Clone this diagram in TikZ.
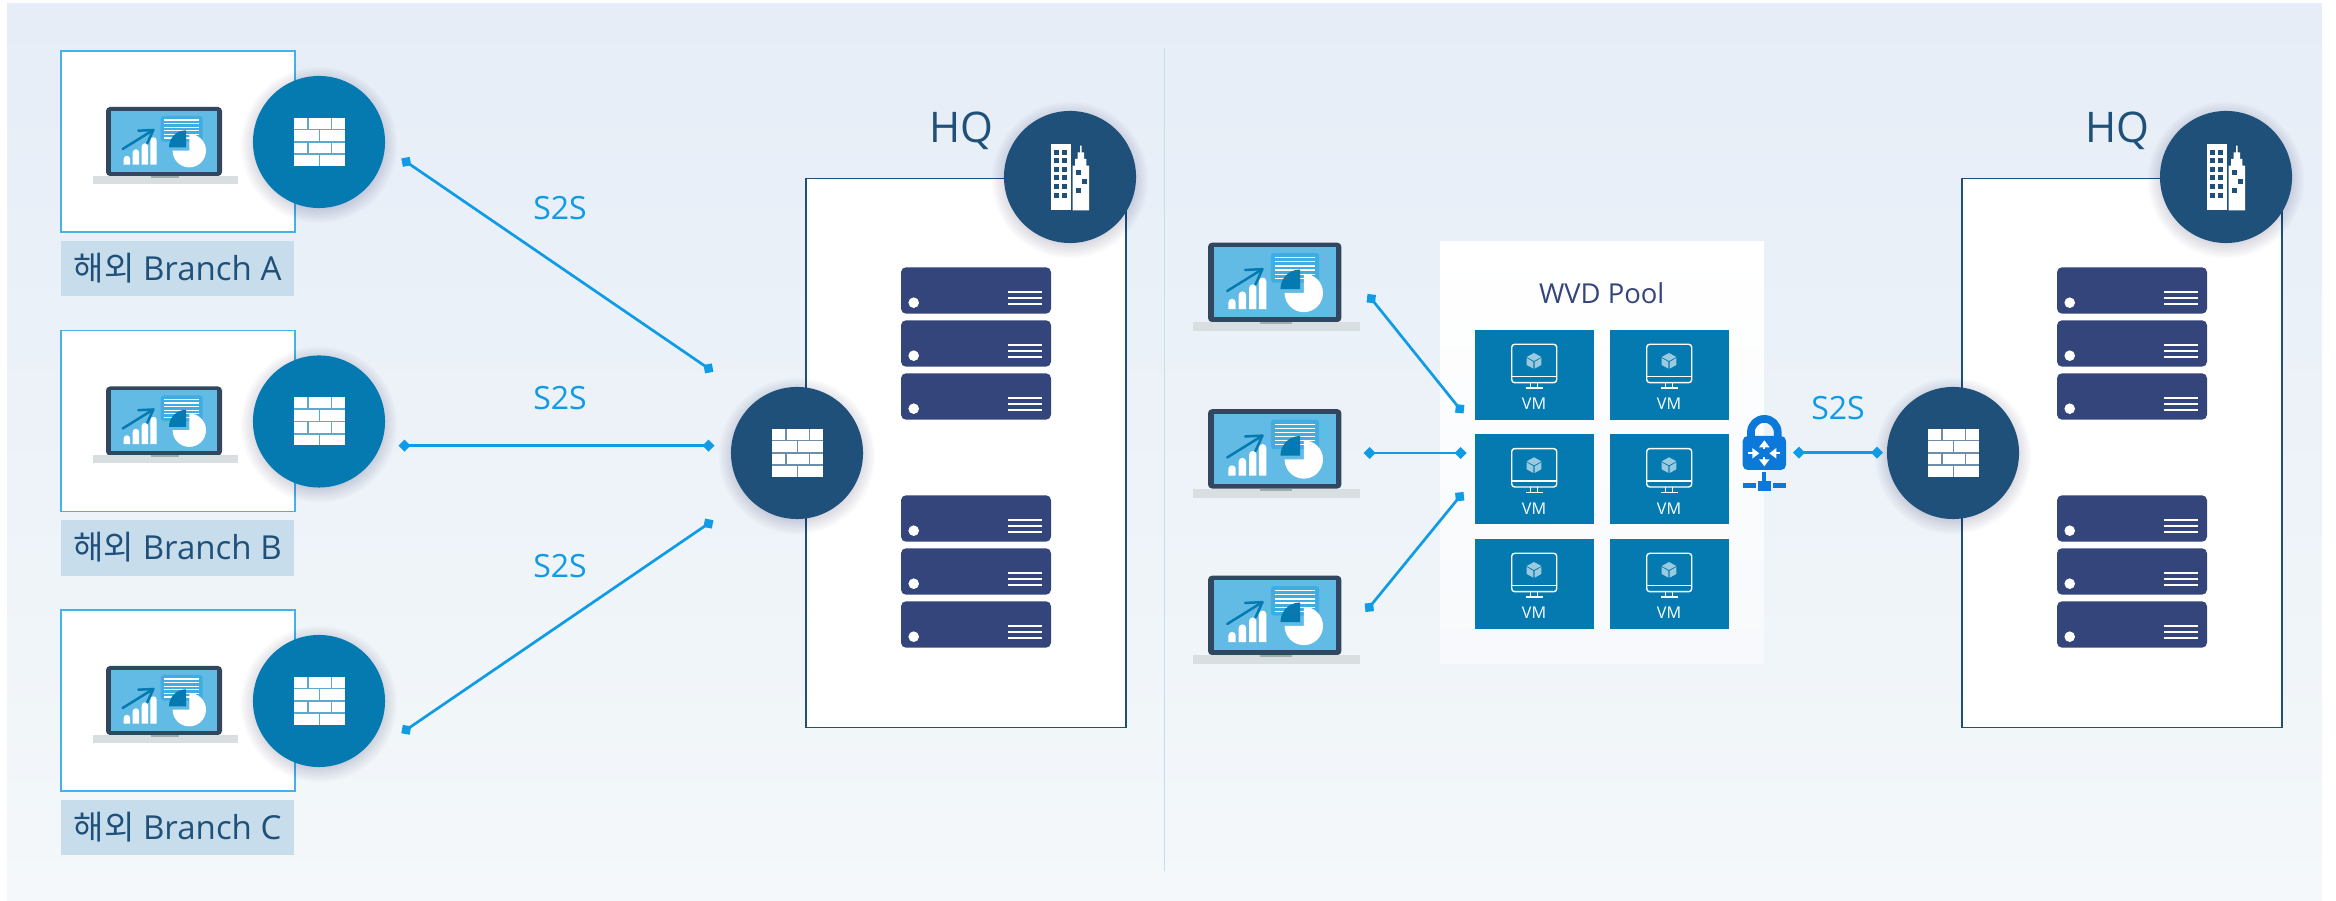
\documentclass[tikz,border=0pt]{standalone}
\usepackage{fontspec}
\setmainfont{Open Sans}
\newfontfamily\krfont{Noto Sans CJK KR}
\usetikzlibrary{arrows.meta}

\definecolor{bgtop}{HTML}{E6EDF7}
\definecolor{bgbottom}{HTML}{F4F8FA}
\definecolor{poolbottom}{HTML}{F7F9FC}
\definecolor{branchblue}{HTML}{047AB0}
\definecolor{hubblue}{HTML}{1F507A}
\definecolor{linkblue}{HTML}{0F9BE6}
\definecolor{boxblue}{HTML}{45B0EA}
\definecolor{labelbg}{HTML}{C8DDEC}
\definecolor{rackblue}{HTML}{34457B}
\definecolor{lockblue}{HTML}{0C78DA}
\definecolor{screenblue}{HTML}{62BBE4}
\definecolor{docblue}{HTML}{3FADE2}
\definecolor{laptopdark}{HTML}{30475F}
\definecolor{laptopbase}{HTML}{D9DFE1}
\definecolor{laptopnotch}{HTML}{A0ADAD}

\tikzset{
    every node/.append style={outer sep=0pt},
    bigcircle/.style={circle, fill=#1, minimum size=1.32cm, inner sep=0pt},
    branchbox/.style={rectangle, draw=boxblue, line width=0.15mm, fill=white, minimum width=2.34cm, minimum height=1.81cm, inner sep=0pt, anchor=north west},
    branchlabel/.style={rectangle, fill=labelbg, text=hubblue, font=\fontsize{9.4}{11}\selectfont, minimum width=2.33cm, minimum height=0.55cm, inner sep=0pt, text height=0.23cm, text depth=0pt, anchor=north west},
    hqbox/.style={rectangle, draw=hubblue, line width=0.15mm, fill=white, minimum width=3.2cm, minimum height=5.486cm, inner sep=0pt, anchor=north west},
    hqtext/.style={anchor=base, text=hubblue, font=\fontsize{12}{14}\selectfont, inner sep=0pt},
    linktext/.style={anchor=base, text=linkblue, font=\fontsize{9.1}{11}\selectfont, inner sep=0pt},
    linkline/.style={draw=linkblue, line width=0.27mm, {Diamond[length=0.12cm,width=0.12cm]}-{Diamond[length=0.12cm,width=0.12cm]}},
    vmtile/.style={rectangle, fill=branchblue, minimum width=1.19cm, minimum height=0.9cm, inner sep=0pt, anchor=north west},
    vmlabel/.style={anchor=base, text=white, font=\fontsize{4.6}{6}\selectfont, inner sep=0pt},
    pics/softshadow/.style={code={
        \foreach \r in {2,4,...,20} {
            \fill[black!70!blue, opacity=0.02] (0,3) circle (58+\r);
        }
    }},
    pics/bricks/.style={code={
        \fill[white] (-25,-24) rectangle (26,24);
        \draw[#1, line width=0.16mm] (-25,-12.3) -- (26,-12.3) (-25,0) -- (26,0) (-25,12.3) -- (26,12.3);
        \foreach \bx in {-11.3,12.3} {
            \draw[#1, line width=0.16mm] (\bx,-24) -- (\bx,-12.3) (\bx,0) -- (\bx,12.3);
        }
        \draw[#1, line width=0.16mm] (0.3,-12.3) -- (0.3,0) (0.3,12.3) -- (0.3,24);
    }},
    pics/building/.style={code={
        \fill[white] (-19.3,-33) rectangle (0.7,33.3);
        \foreach \wy in {-27.3,-18.8,-10.2,-1.5,7.2,15.6} {
            \fill[hubblue] (-16,\wy) rectangle ++(5,5);
            \fill[hubblue] (-8,\wy) rectangle ++(5,5);
        }
        \fill[white] (2.7,33.3) -- (2.7,-11.3) -- (5,-11.3) -- (5,-18) -- (7.7,-18) -- (7.7,-24.7) -- (10,-24.7) -- (10,-31.3)
            -- (11.7,-31.3) -- (11.7,-24.7) -- (14,-24.7) -- (14,-18) -- (16.3,-18) -- (16.3,-11.3) -- (19,-11.3) -- (19,33.3) -- cycle;
        \fill[hubblue] (6,-7.3) rectangle ++(5,5);
        \fill[hubblue] (12,1.7) rectangle ++(5,5);
        \fill[hubblue] (6,10.7) rectangle ++(5,5);
    }},
    pics/rack/.style={code={
        \fill[rackblue, rounded corners=0.05cm] (0,0) rectangle (150,46.4);
        \fill[white] (12.7,35.4) circle (5.3);
        \foreach \ly in {25,31,36.7} {
            \draw[white, line width=0.23mm] (107,\ly) -- (140.7,\ly);
        }
    }},
    pics/laptop/.style={code={
        \fill[laptopdark, rounded corners=0.04cm] (0,69) -- (0,0) -- (116,0) -- (116,69) -- cycle;
        \fill[screenblue] (5,4) rectangle (111,65);
        \fill[laptopbase] (-13,69) rectangle (132,77);
        \fill[laptopnotch] (45,69) rectangle (73,71);
        % Bars
        \foreach \bx/\bt in {17.7/52,26.7/45.5,35.7/39.5,44.3/33.5} {
            \fill[white] (\bx,57.7) -- (\bx,\bt) arc (180:360:3.2) -- (\bx+6.4,57.7) -- cycle;
        }
        % Trend arrow
        \draw[branchblue, line width=0.25mm, line cap=round, line join=round] (16.7,42) -- (47.3,23);
        \draw[branchblue, line width=0.25mm, line cap=round, line join=round] (32.3,23.7) -- (47.3,23) -- (41.3,36.3);
        % Document and pie
        \fill[docblue, rounded corners=0.03cm] (54.7,9) rectangle (96.7,34.7);
        \foreach \ly in {13,16.6,20.2,23.8,27.4,31} {
            \draw[white, line width=0.12mm] (58,\ly) -- (93,\ly);
        }
        \fill[white] (83.3,43.7) -- ++(0,-16.7) arc (270:540:16.7) -- cycle;
        \fill[branchblue] (80,40.3) -- ++(-17,0) arc (180:270:17) -- cycle;
    }},
    pics/vmicon/.style={code={
        \draw[white, line width=0.14mm, rounded corners=0.03cm] (36.7,14.3) rectangle (81.7,52.7);
        \draw[white, line width=0.14mm] (36.7,46.7) -- (81.7,46.7);
        \draw[white, line width=0.14mm] (55.7,52.7) -- (55.7,58) (62.3,52.7) -- (62.3,58);
        \draw[white, line width=0.14mm] (51,58) -- (67.7,58);
        % Cube
        \fill[branchblue!40!white] (59,23) -- (66.3,27) -- (59,31) -- (51.7,27) -- cycle;
        \fill[branchblue!40!white] (51.7,28) -- (58.4,32) -- (58.4,38.7) -- (51.7,35) -- cycle;
        \fill[branchblue!40!white] (66.3,28) -- (59.6,32) -- (59.6,38.7) -- (66.3,35) -- cycle;
    }},
    pics/lockicon/.style={code={
        \draw[lockblue, line width=0.77mm] (-13.4,-15) -- (-13.4,-21) arc (180:360:13.4) -- (13.4,-15);
        \fill[lockblue, rounded corners=0.05cm] (-21.6,-17.3) rectangle (21.7,16.7);
        % Arrows
        \draw[white, line width=0.2mm, -{Triangle[length=0.07cm,width=0.1cm]}] (0,-4) -- (0,-13);
        \draw[white, line width=0.2mm, -{Triangle[length=0.07cm,width=0.1cm]}] (0,4) -- (0,13);
        \draw[white, line width=0.2mm, -{Triangle[length=0.07cm,width=0.1cm]}] (-16,0) -- (-5,0);
        \draw[white, line width=0.2mm, -{Triangle[length=0.07cm,width=0.1cm]}] (16,0) -- (5,0);
        % Network
        \fill[lockblue] (-2,19) rectangle (2,28);
        \fill[lockblue] (-6.3,27.4) rectangle (6.3,37.4);
        \fill[lockblue] (-21.6,30) rectangle (-8.3,35);
        \fill[lockblue] (8.4,30) rectangle (21.7,35);
    }},
}

\begin{document}
\begin{tikzpicture}[x=0.01cm, y=-0.01cm]
    \useasboundingbox (0,0) rectangle (2336,901);

    % Background
    \shade[top color=bgtop, bottom color=bgbottom] (7,4) rectangle (2322,901);
    \draw[labelbg, line width=0.15mm] (1164.7,48) -- (1164.7,871);

    % Branch sites
    \foreach \dy/\nm in {0/A,279.5/B,559/C} {
        \node[branchbox] (box\nm) at (61,51+\dy) {};
        \pic at (106,107+\dy) {laptop};
        \pic at (319,142+\dy) {softshadow};
        \node[bigcircle=branchblue] (fw\nm) at (319,142+\dy) {};
        \pic at (fw\nm) {bricks=branchblue!65!white};
        \node[branchlabel] (lab\nm) at (61,241+\dy) {{\krfont 해외} Branch \nm};
    }

    % HQ sites
    \foreach \ox/\nm in {0/L,1156/R} {
        \node[hqbox] (hq\nm) at (806+\ox,178.7) {};
        \node[hqtext] (hqtext\nm) at (961.7+\ox,142.7) {HQ};
        \foreach \ry in {267.3,320.3,373.3,495.3,548.3,601.3} {
            \pic at (901+\ox,\ry) {rack};
        }
        \pic at (1070+\ox,177) {softshadow};
        \node[bigcircle=hubblue] (bld\nm) at (1070+\ox,177) {};
        \pic at (bld\nm) {building};
        \pic at (797+\ox,453) {softshadow};
        \node[bigcircle=hubblue] (hub\nm) at (797+\ox,453) {};
        \pic at (hub\nm) {bricks=hubblue!65!white};
    }

    % S2S links on the left
    \coordinate (linkAa) at (401.3,158.5);
    \coordinate (linkAb) at (713.4,371.8);
    \coordinate (linkBa) at (398.5,445.7);
    \coordinate (linkBb) at (714.5,445.7);
    \coordinate (linkCa) at (401.3,733.2);
    \coordinate (linkCb) at (713.4,520.2);
    \draw[linkline] (linkAa) -- (linkAb);
    \draw[linkline] (linkBa) -- (linkBb);
    \draw[linkline] (linkCa) -- (linkCb);
    \node[linktext] (s2sA) at (560,220) {S2S};
    \node[linktext] (s2sB) at (560,409.3) {S2S};
    \node[linktext] (s2sC) at (560,577.3) {S2S};

    % Clients
    \foreach \dy/\nm in {0/a,166.5/b,333/c} {
        \pic[scale=1.15] at (1208,242.7+\dy) {laptop};
    }

    % WVD pool
    \shade[top color=white, bottom color=poolbottom] (1440,242) rectangle (1764,664);
    \node[anchor=base, text=rackblue, font=\fontsize{7.8}{10}\selectfont, inner sep=0pt] (pooltext) at (1601.7,304) {WVD Pool};
    \foreach \c/\cx in {a/1475,b/1610} {
        \foreach \r/\ry in {1/330,2/434.3,3/539} {
            \node[vmtile] (vm\c\r) at (\cx,\ry) {};
            \pic at (vm\c\r.north west) {vmicon};
            \node[vmlabel] (vmtext\c\r) at (\cx+59,\ry+80) {VM};
        }
    }

    % Client links
    \coordinate (cliAa) at (1367.5,294);
    \coordinate (cliAb) at (1463.5,413.5);
    \coordinate (cliBa) at (1363.5,453);
    \coordinate (cliBb) at (1466.5,453);
    \coordinate (cliCa) at (1365.5,612);
    \coordinate (cliCb) at (1463.5,492);
    \draw[linkline] (cliAa) -- (cliAb);
    \draw[linkline] (cliBa) -- (cliBb);
    \draw[linkline] (cliCa) -- (cliCb);

    % VPN gateway
    \pic at (1764.3,453.3) {lockicon};
    \coordinate (gwlink) at (1793,452.7);
    \coordinate (hublink) at (1883,452.7);
    \draw[linkline] (gwlink) -- (hublink);
    \node[linktext] (s2sR) at (1838,420) {S2S};
\end{tikzpicture}
\end{document}
